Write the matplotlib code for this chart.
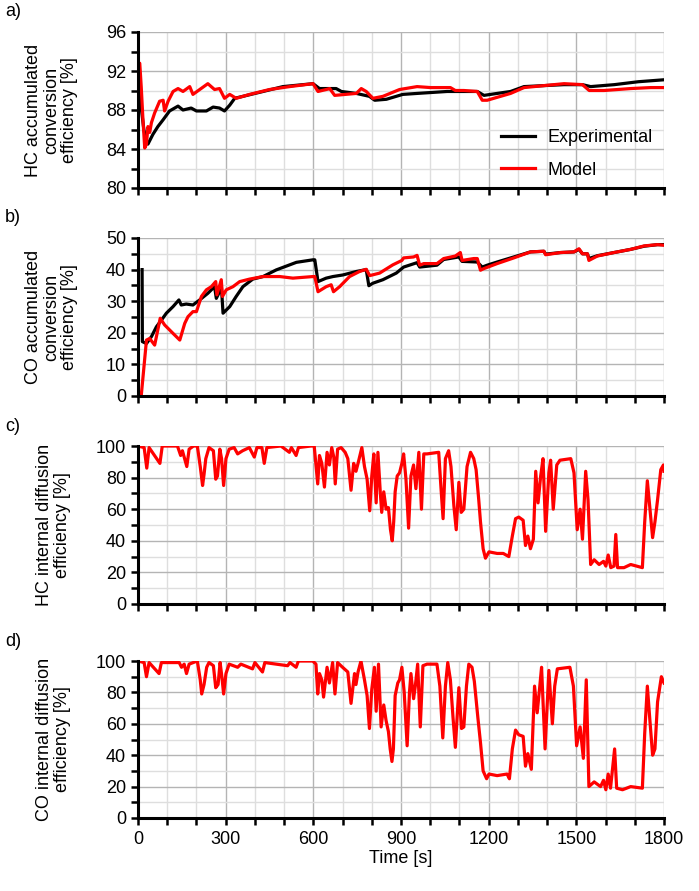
import numpy as np
import matplotlib
matplotlib.use("Agg")
import matplotlib.pyplot as plt
from matplotlib.ticker import MultipleLocator

plt.rcParams['font.family'] = ['Liberation Sans', 'DejaVu Sans']
plt.rcParams['font.size'] = 13

# a) HC accumulated conversion efficiency [%]
hc_acc_exp_t = [5, 12, 20, 27, 34, 51, 68, 86, 108, 137, 154, 182, 200, 234, 257, 279, 296,
                314, 331, 359, 428, 496, 599, 621, 678, 696, 747, 792, 810, 850, 906, 955,
                1058, 1103, 1161, 1184, 1229, 1275, 1321, 1389, 1458, 1521, 1549, 1630, 1712, 1800]
hc_acc_exp = [89.5, 88.0, 86.0, 85.0, 84.5, 85.5, 86.3, 87.0, 87.9, 88.4, 88.0, 88.2, 87.9, 87.9,
              88.3, 88.2, 87.9, 88.5, 89.2, 89.4, 89.9, 90.4, 90.7, 90.2, 90.2, 89.9, 89.7, 89.4,
              89.0, 89.1, 89.6, 89.7, 89.9, 89.9, 89.9, 89.5, 89.7, 89.9, 90.4, 90.5, 90.6, 90.6,
              90.4, 90.6, 90.9, 91.1]
hc_acc_mod_t = [0, 6, 11, 17, 23, 29, 34, 40, 46, 57, 74, 86, 91, 103, 120, 137, 154, 177, 188,
                239, 262, 279, 296, 314, 336, 382, 450, 519, 599, 616, 644, 656, 673, 747, 764,
                781, 804, 838, 895, 955, 1001, 1069, 1086, 1115, 1161, 1178, 1195, 1229, 1275,
                1321, 1389, 1458, 1521, 1544, 1595, 1686, 1755, 1800]
hc_acc_mod = [92.8, 92.8, 90.4, 87.0, 84.1, 84.5, 86.3, 85.7, 86.7, 87.7, 88.9, 89.0, 87.9, 88.9,
              89.9, 90.2, 89.9, 90.4, 89.6, 90.7, 90.1, 90.2, 89.2, 89.6, 89.2, 89.6, 90.1, 90.4,
              90.7, 89.9, 90.1, 90.2, 89.5, 89.7, 90.2, 89.9, 89.2, 89.4, 90.1, 90.4, 90.3, 90.3,
              90.0, 90.0, 89.9, 89.0, 89.0, 89.3, 89.7, 90.3, 90.5, 90.7, 90.6, 90.0, 90.0, 90.2,
              90.3, 90.3]

# b) CO accumulated conversion efficiency [%]
co_acc_exp_t = [14, 15, 29, 46, 63, 80, 97, 120, 140, 148, 165, 188, 211, 239, 262, 268, 279,
                285, 291, 314, 336, 359, 393, 428, 473, 519, 542, 599, 605, 616, 644, 667, 701,
                747, 781, 790, 804, 838, 884, 909, 955, 964, 1023, 1046, 1098, 1109, 1161, 1178,
                1195, 1229, 1286, 1343, 1389, 1395, 1446, 1492, 1509, 1521, 1538, 1543, 1572,
                1629, 1686, 1732, 1778, 1800]
co_acc_exp = [40.0, 17.2, 16.6, 18.8, 21.9, 24.0, 26.2, 28.3, 30.4, 28.8, 29.1, 28.8, 30.4, 32.5,
              34.6, 30.9, 33.0, 35.2, 26.2, 28.3, 31.5, 34.6, 37.0, 37.8, 39.9, 41.5, 42.3, 43.1,
              43.1, 36.2, 37.3, 37.8, 38.3, 39.4, 40.0, 34.9, 35.7, 36.8, 38.9, 40.8, 42.2, 40.8,
              41.4, 43.2, 44.0, 42.6, 42.4, 40.8, 41.4, 42.4, 44.0, 45.6, 45.8, 44.9, 45.4, 45.6,
              46.4, 45.0, 45.0, 43.5, 44.4, 45.4, 46.4, 47.4, 47.9, 47.9]
co_acc_mod_t = [0, 11, 29, 40, 57, 76, 91, 120, 143, 160, 171, 188, 200, 217, 234, 251, 266, 270,
                285, 289, 302, 325, 348, 382, 428, 485, 530, 599, 605, 616, 644, 661, 669, 690,
                724, 758, 781, 793, 827, 872, 903, 909, 943, 955, 964, 978, 1023, 1046, 1086,
                1103, 1109, 1149, 1161, 1172, 1183, 1229, 1286, 1343, 1389, 1395, 1446, 1492,
                1509, 1521, 1538, 1543, 1572, 1629, 1686, 1732, 1778, 1800]
co_acc_mod = [0.0, 0.0, 17.7, 18.2, 16.1, 24.6, 22.5, 19.8, 17.7, 23.0, 25.1, 26.7, 26.7, 31.5,
              33.6, 34.6, 36.2, 32.0, 36.8, 31.5, 33.6, 34.6, 36.2, 37.0, 37.8, 37.8, 37.3, 37.8,
              37.8, 33.0, 34.6, 35.2, 33.0, 34.6, 37.8, 39.4, 40.1, 38.1, 38.9, 41.5, 42.9, 43.7,
              44.0, 44.5, 41.4, 41.9, 41.9, 43.5, 44.3, 45.4, 42.9, 43.5, 43.5, 39.8, 40.3, 41.9,
              43.7, 45.6, 45.8, 44.7, 45.4, 45.6, 46.6, 45.0, 45.0, 42.9, 44.3, 45.4, 46.4, 47.5,
              47.9, 47.7]

# c) HC internal diffusion efficiency [%]
hc_diff_t = [0, 21, 30, 38, 75, 83, 135, 146, 152, 167, 175, 190, 203, 213, 221, 226, 232, 243,
             258, 266, 272, 280, 286, 293, 301, 312, 329, 341, 358, 381, 398, 407, 424, 432, 441,
             489, 518, 525, 541, 549, 592, 603, 615, 621, 629, 638, 647, 655, 663, 670, 675,
             683, 695, 709, 718, 729, 738, 746, 753, 766, 775, 784, 793, 800, 807, 815, 821,
             829, 834, 841, 849, 857, 864, 870, 875, 880, 887, 895, 903, 909, 917, 926, 934,
             943, 951, 961, 970, 978, 989, 1029, 1037, 1044, 1052, 1063, 1071, 1081, 1089,
             1098, 1106, 1115, 1126, 1138, 1149, 1157, 1166, 1172, 1181, 1189, 1201, 1229,
             1250, 1269, 1281, 1292, 1303, 1318, 1326, 1334, 1343, 1353, 1361, 1369, 1378,
             1386, 1395, 1406, 1412, 1421, 1433, 1444, 1481, 1492, 1503, 1513, 1521, 1532,
             1540, 1549, 1561, 1578, 1593, 1601, 1609, 1618, 1629, 1635, 1641, 1663, 1686,
             1726, 1734, 1743, 1751, 1761, 1769, 1778, 1789, 1798, 1800]
hc_diff = [100, 99, 86, 99, 89, 100, 100, 94, 97, 87, 98, 100, 100, 87, 75, 82, 92, 99, 97,
           79, 81, 98, 92, 75, 92, 98, 99, 95, 97, 99, 93, 99, 99, 89, 99, 100, 96, 99, 94, 99,
           100, 100, 76, 94, 89, 74, 96, 88, 99, 93, 76, 98, 99, 96, 92, 72, 89, 84, 89, 99, 87,
           79, 59, 81, 95, 64, 96, 71, 58, 71, 60, 61, 47, 40, 52, 71, 81, 83, 89, 95, 79, 48,
           81, 88, 73, 96, 60, 95, 95, 96, 73, 54, 92, 97, 87, 62, 47, 77, 58, 60, 87, 96, 92,
           85, 66, 52, 35, 29, 33, 32, 32, 30, 43, 54, 55, 53, 37, 43, 35, 41, 84, 64, 81, 92,
           46, 83, 91, 60, 88, 91, 92, 83, 47, 60, 41, 84, 66, 25, 28, 25, 27, 24, 31, 23, 24,
           44, 23, 23, 25, 23, 52, 78, 62, 42, 52, 66, 85, 88, 84]

# d) CO internal diffusion efficiency [%]
co_diff_t = [0, 21, 29, 38, 72, 80, 141, 149, 158, 166, 175, 203, 213, 218, 226, 235, 243, 258,
             266, 274, 281, 287, 293, 301, 312, 341, 352, 392, 400, 426, 434, 512, 520, 541,
             549, 598, 609, 615, 621, 629, 635, 647, 655, 666, 674, 683, 700, 718, 729, 741,
             746, 753, 763, 775, 784, 792, 800, 809, 815, 823, 832, 841, 849, 857, 863, 869,
             874, 880, 889, 895, 903, 911, 921, 929, 934, 943, 949, 957, 966, 975, 989, 1023,
             1033, 1043, 1052, 1060, 1069, 1078, 1086, 1098, 1107, 1115, 1124, 1132, 1143,
             1151, 1163, 1172, 1181, 1193, 1201, 1229, 1263, 1271, 1281, 1292, 1303, 1318,
             1326, 1334, 1346, 1357, 1366, 1374, 1381, 1393, 1406, 1418, 1426, 1435, 1478,
             1490, 1501, 1513, 1524, 1534, 1543, 1561, 1583, 1593, 1601, 1609, 1617, 1631,
             1638, 1658, 1686, 1726, 1734, 1743, 1751, 1761, 1769, 1778, 1791, 1800]
co_diff = [100, 99, 90, 99, 92, 99, 99, 96, 98, 92, 98, 100, 88, 79, 85, 96, 99, 97, 83, 85, 99,
           90, 79, 92, 98, 96, 98, 95, 99, 93, 99, 97, 99, 96, 100, 100, 98, 79, 92, 88, 77, 96,
           86, 99, 79, 99, 96, 93, 73, 92, 85, 93, 100, 88, 78, 57, 82, 96, 68, 98, 58, 72, 62,
           55, 44, 36, 44, 78, 86, 88, 96, 80, 46, 80, 92, 76, 84, 98, 58, 97, 98, 98, 84, 51,
           84, 99, 88, 64, 45, 83, 57, 58, 84, 98, 96, 87, 64, 48, 30, 25, 28, 27, 28, 25, 44,
           56, 53, 52, 33, 41, 31, 84, 67, 82, 96, 44, 94, 60, 84, 95, 96, 84, 46, 58, 38, 88,
           20, 23, 20, 24, 18, 28, 19, 44, 19, 18, 20, 19, 54, 84, 64, 40, 44, 74, 90, 86]

time_ticks = [0, 300, 600, 900, 1200, 1500, 1800]

fig = plt.figure(figsize=(6.99, 8.91), dpi=100)
left, width = 138 / 699, 526 / 699
boxes = [(32, 188), (238, 396), (446, 604), (661, 818)]
axes = [fig.add_axes([left, 1 - b / 891, width, (b - t) / 891]) for t, b in boxes]


def style(ax, ymin, ymax, major, minor):
    ax.set_xlim(0, 1800)
    ax.set_ylim(ymin, ymax)
    ax.xaxis.set_major_locator(MultipleLocator(300))
    ax.xaxis.set_minor_locator(MultipleLocator(100))
    ax.yaxis.set_major_locator(MultipleLocator(major))
    ax.yaxis.set_minor_locator(MultipleLocator(minor))
    ax.grid(True, which='major', color='#b4b4b4', lw=1.0)
    ax.grid(True, which='minor', color='#dedede', lw=1.0)
    ax.set_axisbelow(True)
    for s in ['top', 'right']:
        ax.spines[s].set_visible(False)
    for s in ['left', 'bottom']:
        ax.spines[s].set_linewidth(2.2)
    ax.tick_params(which='both', direction='out', length=5, width=1.8, labelsize=13)
    ax.tick_params(axis='x', labelbottom=False)


lw = 2.3
ax = axes[0]
ax.plot(hc_acc_exp_t, hc_acc_exp, color='black', lw=lw, label='Experimental')
ax.plot(hc_acc_mod_t, hc_acc_mod, color='#ff0000', lw=lw, label='Model')
style(ax, 80, 96, 4, 2)
ax.set_ylabel('HC accumulated\nconversion\nefficiency [%]', fontsize=13, linespacing=1.05)
ax.legend(loc='lower right', bbox_to_anchor=(1.01, -0.045), frameon=False, fontsize=13,
          handlelength=1.9, handletextpad=0.7, labelspacing=0.85)

ax = axes[1]
ax.plot(co_acc_exp_t, co_acc_exp, color='black', lw=lw)
ax.plot(co_acc_mod_t, co_acc_mod, color='#ff0000', lw=lw)
style(ax, 0, 50, 10, 5)
ax.set_ylabel('CO accumulated\nconversion\nefficiency [%]', fontsize=13, linespacing=1.05)

ax = axes[2]
ax.plot(hc_diff_t, hc_diff, color='#ff0000', lw=lw)
style(ax, 0, 100, 20, 10)
ax.set_ylabel('HC internal diffusion\nefficiency [%]', fontsize=13, linespacing=1.1)

ax = axes[3]
ax.plot(co_diff_t, co_diff, color='#ff0000', lw=lw)
style(ax, 0, 100, 20, 10)
ax.set_ylabel('CO internal diffusion\nefficiency [%]', fontsize=13, linespacing=1.1)
ax.tick_params(axis='x', labelbottom=True, pad=4)
ax.set_xticks(time_ticks)
ax.set_xlabel('Time [s]', fontsize=13, labelpad=2)

for ax, xc in zip(axes, [-0.115, -0.115, -0.127, -0.127]):
    ax.yaxis.set_label_coords(xc, 0.5)

for letter, (t, b) in zip('abcd', boxes):
    fig.text(5 / 699, 1 - (t - 20) / 891, letter + ')', fontsize=13, va='center', ha='left')

fig.savefig('out.png', dpi=100)
